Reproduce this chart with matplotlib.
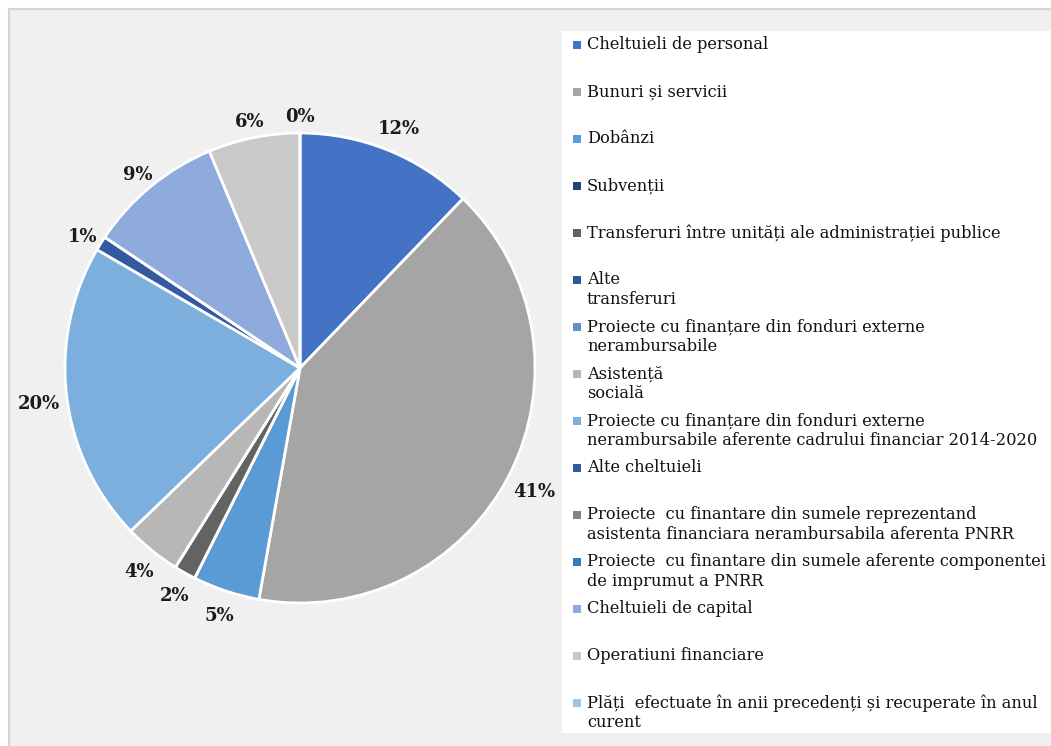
import numpy as np
import matplotlib
matplotlib.use("Agg")
import matplotlib.pyplot as plt
from matplotlib.patches import Rectangle

# categories (legend order == pie order, clockwise from 12 o'clock)
categories = [
    "Cheltuieli de personal",
    "Bunuri și servicii",
    "Dobânzi",
    "Subvenții",
    "Transferuri între unități ale administrației publice",
    "Alte\ntransferuri",
    "Proiecte cu finanțare din fonduri externe\nnerambursabile",
    "Asistență\nsocială",
    "Proiecte cu finanțare din fonduri externe\nnerambursabile aferente cadrului financiar 2014-2020",
    "Alte cheltuieli",
    "Proiecte  cu finantare din sumele reprezentand\nasistenta financiara nerambursabila aferenta PNRR",
    "Proiecte  cu finantare din sumele aferente componentei\nde imprumut a PNRR",
    "Cheltuieli de capital",
    "Operatiuni financiare",
    "Plăți  efectuate în anii precedenți și recuperate în anul\ncurent",
]
shares = [12.2, 40.6, 4.6, 0.0, 1.5, 0.0, 0.0, 3.9, 20.6, 1.0, 0.0, 0.0, 9.3, 6.3, 0.0]
pct_labels = ["12%", "41%", "5%", "", "2%", "", "", "4%", "20%", "1%", "", "", "9%", "6%", "0%"]
colors = ["#4472C4", "#A5A5A5", "#5B9BD5", "#264478", "#636363", "#2F5597",
          "#698ED0", "#B7B7B7", "#7CAFDD", "#335AA1", "#848484", "#327DC2",
          "#8FAADC", "#C9C9C9", "#9DC3E6"]

W, H = 1051, 746
fig = plt.figure(figsize=(W / 100, H / 100), dpi=100)
fig.patch.set_facecolor("white")

def fx(px):
    return px / W

def fy(py):
    return 1 - py / H

# chart area background + frame
fig.patches.append(Rectangle((fx(9), fy(760)), fx(1060 - 9), (760 - 9) / H, transform=fig.transFigure,
                             facecolor="#F0F0F0", edgecolor="#D4D4D4", lw=1.5, zorder=0))
# legend box
fig.patches.append(Rectangle((fx(562), fy(733)), fx(1060 - 562), (733 - 31) / H, transform=fig.transFigure,
                             facecolor="white", edgecolor="none", zorder=1))

# pie
cx, cy, r = 300, 368, 235
ax = fig.add_axes([fx(cx - r), fy(cy + r), fx(2 * r), 2 * r / H])
ax.set_zorder(5)
wedges, _ = ax.pie(shares, colors=colors, startangle=90, counterclock=False, radius=1,
                   wedgeprops=dict(edgecolor="white", linewidth=2))
ax.set_xlim(-1, 1)
ax.set_ylim(-1, 1)
ax.axis("off")

serif = ["DejaVu Serif", "Liberation Serif"]
for w, lab in zip(wedges, pct_labels):
    if not lab:
        continue
    ang = np.deg2rad((w.theta1 + w.theta2) / 2)
    d = 1.12 if len(lab) > 2 else 1.09
    ax.text(d * np.cos(ang), d * np.sin(ang) - 0.02, lab, ha="center", va="center",
            fontsize=13, fontweight="bold", family=serif, color="#1a1a1a")

# legend drawn by hand so that wrapped entries keep an even pitch
top0, step = 36, 47
for i, (name, c) in enumerate(zip(categories, colors)):
    ytop = top0 + i * step
    fig.patches.append(Rectangle((fx(573), fy(ytop + 13)), fx(8), 8 / H, transform=fig.transFigure,
                                 facecolor=c, edgecolor="none", zorder=2))
    fig.text(fx(587), fy(ytop), name, ha="left", va="top", fontsize=11.7,
             family=serif, color="#111111", linespacing=1.2, zorder=3)

fig.savefig("out.png", dpi=100)
